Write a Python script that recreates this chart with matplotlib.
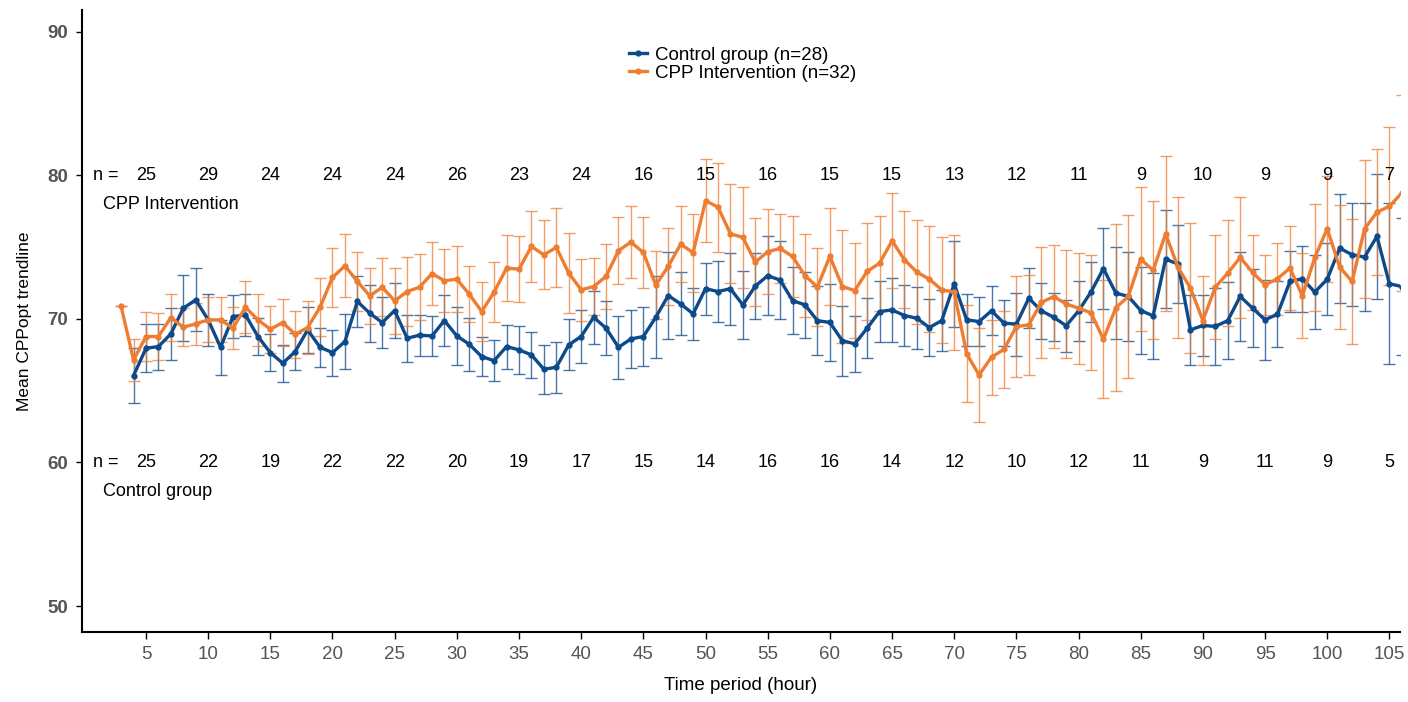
import matplotlib
matplotlib.use("Agg")
import matplotlib.pyplot as plt
import numpy as np

plt.rcParams['font.family'] = ['Liberation Sans', 'DejaVu Sans']

# ---------------- data ----------------
ctrl_hours = list(range(4, 107))
ctrl_mean = [66.05, 67.95, 68.07, 68.95, 70.74, 71.32, 69.93, 68.02, 70.16, 70.28,
             68.77, 67.65, 66.91, 67.72, 69.23, 68.02, 67.65, 68.42, 71.21, 70.39,
             69.74, 70.58, 68.65, 68.86, 68.81, 69.88, 68.81, 68.23, 67.37, 67.09,
             68.07, 67.84, 67.49, 66.49, 66.63, 68.19, 68.77, 70.11, 69.35, 68.02,
             68.60, 68.77, 70.11, 71.62, 71.04, 70.35, 72.10, 71.90, 72.10, 70.97,
             72.28, 73.00, 72.70, 71.27, 70.97, 69.87, 69.75, 68.48, 68.26, 69.35,
             70.51, 70.62, 70.23, 70.04, 69.39, 69.88, 72.44, 69.93, 69.81, 70.56,
             69.70, 69.63, 71.44, 70.56, 70.11, 69.52, 70.55, 71.87, 73.50, 71.79,
             71.56, 70.58, 70.21, 74.16, 73.81, 69.23, 69.54, 69.47, 69.88, 71.56,
             70.74, 69.93, 70.32, 72.60, 72.79, 71.86, 72.76, 74.92, 74.46, 74.30,
             75.74, 72.44, 72.25]
ctrl_err = [1.9, 1.66, 1.6, 1.8, 2.3, 2.2, 1.8, 1.9, 1.5, 1.45,
            1.3, 1.3, 1.28, 1.28, 1.6, 1.37, 1.6, 1.9, 1.8, 2.0,
            1.8, 1.9, 1.65, 1.42, 1.4, 1.77, 2.0, 1.83, 1.35, 1.42,
            1.53, 1.65, 1.6, 1.7, 1.78, 1.78, 1.85, 1.86, 1.9, 2.2,
            2.0, 2.07, 2.86, 3.0, 2.2, 1.8, 1.8, 2.1, 2.5, 2.35,
            2.3, 2.76, 2.7, 2.35, 2.3, 2.4, 2.7, 2.44, 1.94, 2.1,
            2.14, 2.2, 2.1, 2.15, 2.0, 2.1, 3.0, 1.8, 1.7, 1.72,
            1.6, 2.2, 2.1, 1.93, 1.67, 1.8, 2.07, 2.1, 2.85, 3.2,
            3.1, 3.0, 3.0, 3.4, 2.7, 2.45, 2.15, 2.7, 2.7, 3.1,
            2.7, 2.8, 2.3, 2.1, 2.3, 2.6, 2.5, 3.8, 3.6, 3.75,
            4.35, 5.6, 4.76]

cpp_hours = list(range(3, 107))
cpp_mean = [70.86, 67.14, 68.77, 68.77, 70.09, 69.42, 69.65, 69.93, 69.93, 69.35,
            70.81, 69.93, 69.28, 69.74, 68.93, 69.39, 70.81, 72.88, 73.69, 72.60,
            71.60, 72.20, 71.25, 71.90, 72.20, 73.15, 72.65, 72.76, 71.72, 70.51,
            71.86, 73.53, 73.46, 75.04, 74.46, 74.97, 73.18, 72.02, 72.25, 72.95,
            74.75, 75.34, 74.62, 72.35, 73.65, 75.20, 74.60, 78.22, 77.78, 75.92,
            75.67, 73.95, 74.67, 74.90, 74.34, 73.00, 72.22, 74.35, 72.25, 71.97,
            73.30, 73.88, 75.43, 74.11, 73.25, 72.76, 72.02, 71.86, 67.56, 66.10,
            67.33, 67.88, 69.46, 69.58, 71.14, 71.55, 71.04, 70.74, 70.42, 68.58,
            70.77, 71.56, 74.16, 73.37, 75.92, 73.58, 72.14, 69.88, 72.21, 73.18,
            74.27, 73.23, 72.37, 72.79, 73.53, 71.60, 74.27, 76.27, 73.60, 72.60,
            76.25, 77.43, 77.83, 78.76]
cpp_err = [0.0, 1.49, 1.72, 1.63, 1.65, 1.33, 1.44, 1.56, 1.56, 1.46,
           1.8, 1.8, 1.63, 1.65, 1.65, 1.86, 2.0, 2.05, 2.2, 2.05,
           1.93, 2.0, 2.3, 2.37, 2.28, 2.18, 2.2, 2.28, 1.97, 2.02,
           2.1, 2.32, 2.32, 2.5, 2.4, 2.76, 2.8, 2.14, 1.97, 2.28,
           2.32, 2.48, 2.5, 2.35, 2.67, 2.63, 2.73, 2.9, 3.1, 3.45,
           3.5, 3.07, 2.95, 2.4, 2.8, 2.9, 2.7, 3.37, 3.9, 3.3,
           3.4, 3.3, 3.3, 3.37, 3.6, 3.7, 3.7, 4.0, 3.37, 3.25,
           2.6, 2.67, 3.5, 3.5, 3.85, 3.6, 3.75, 3.86, 4.0, 4.1,
           5.8, 5.65, 5.0, 4.8, 5.4, 4.9, 4.55, 3.1, 3.6, 3.7,
           4.2, 2.6, 2.1, 2.5, 2.9, 2.95, 3.7, 3.7, 4.3, 4.35,
           4.8, 4.4, 5.5, 6.85]

n_hours = [5, 10, 15, 20, 25, 30, 35, 40, 45, 50, 55, 60, 65, 70, 75, 80, 85, 90, 95, 100, 105]
n_cpp = [25, 29, 24, 24, 24, 26, 23, 24, 16, 15, 16, 15, 15, 13, 12, 11, 9, 10, 9, 9, 7]
n_ctrl = [25, 22, 19, 22, 22, 20, 19, 17, 15, 14, 16, 16, 14, 12, 10, 12, 11, 9, 11, 9, 5]

ctrl_label = "Control group (n=28)"
cpp_label = "CPP Intervention (n=32)"
BLUE = "#0D4A8C"
ORANGE = "#EE7D32"

# ---------------- figure ----------------
fig = plt.figure(figsize=(14.08, 7.02), dpi=100)
ax = fig.add_axes([0.0582, 0.0997, 0.9361, 0.8861])

ax.errorbar(ctrl_hours, ctrl_mean, yerr=ctrl_err, fmt='none', ecolor=BLUE,
            elinewidth=1.0, capsize=4.5, capthick=1.0, alpha=0.75, zorder=2)
ax.errorbar(cpp_hours, cpp_mean, yerr=cpp_err, fmt='none', ecolor=ORANGE,
            elinewidth=1.0, capsize=4.5, capthick=1.0, alpha=0.75, zorder=2)
ax.plot(ctrl_hours, ctrl_mean, color=BLUE, lw=2.4, marker='o', ms=3.5,
        label=ctrl_label, zorder=3)
ax.plot(cpp_hours, cpp_mean, color=ORANGE, lw=2.4, marker='o', ms=3.5,
        label=cpp_label, zorder=4)

ax.set_xlim(-0.15, 105.85)
ax.set_ylim(48.2, 91.5)
ax.set_xticks(n_hours)
ax.set_yticks([50, 60, 70, 80, 90])
ax.tick_params(axis='x', labelsize=13.5, labelcolor='#555555', length=5, width=1,
               color='black', pad=5)
ax.tick_params(axis='y', labelsize=13.5, labelcolor='#555555', length=4, width=1,
               color='black', pad=6)
for lab in ax.get_yticklabels():
    lab.set_fontweight('bold')
for s in ['top', 'right']:
    ax.spines[s].set_visible(False)
for s in ['left', 'bottom']:
    ax.spines[s].set_color('black')
    ax.spines[s].set_linewidth(1.5)

ax.set_xlabel("Time period (hour)", fontsize=13.5, labelpad=10)
ax.set_ylabel("Mean CPPopt trendline", fontsize=12.5, labelpad=11)

# n annotations
FS = 13
ax.text(0.75, 80, "n =", fontsize=FS, va='center', ha='left')
ax.text(0.75, 60, "n =", fontsize=FS, va='center', ha='left')
for h, n in zip(n_hours, n_cpp):
    ax.text(h, 80, str(n), fontsize=FS, va='center', ha='center', zorder=5)
for h, n in zip(n_hours, n_ctrl):
    ax.text(h, 60, str(n), fontsize=FS, va='center', ha='center', zorder=5)
ax.text(1.55, 77.95, "CPP Intervention", fontsize=FS, va='center', ha='left')
ax.text(1.55, 58.0, "Control group", fontsize=FS, va='center', ha='left')

leg = ax.legend(loc='upper left', bbox_to_anchor=(0.409, 0.953), frameon=False,
                fontsize=13.5, handlelength=1.0, handletextpad=0.4,
                labelspacing=0.05, borderaxespad=0.0)

fig.savefig("out.png", dpi=100)
